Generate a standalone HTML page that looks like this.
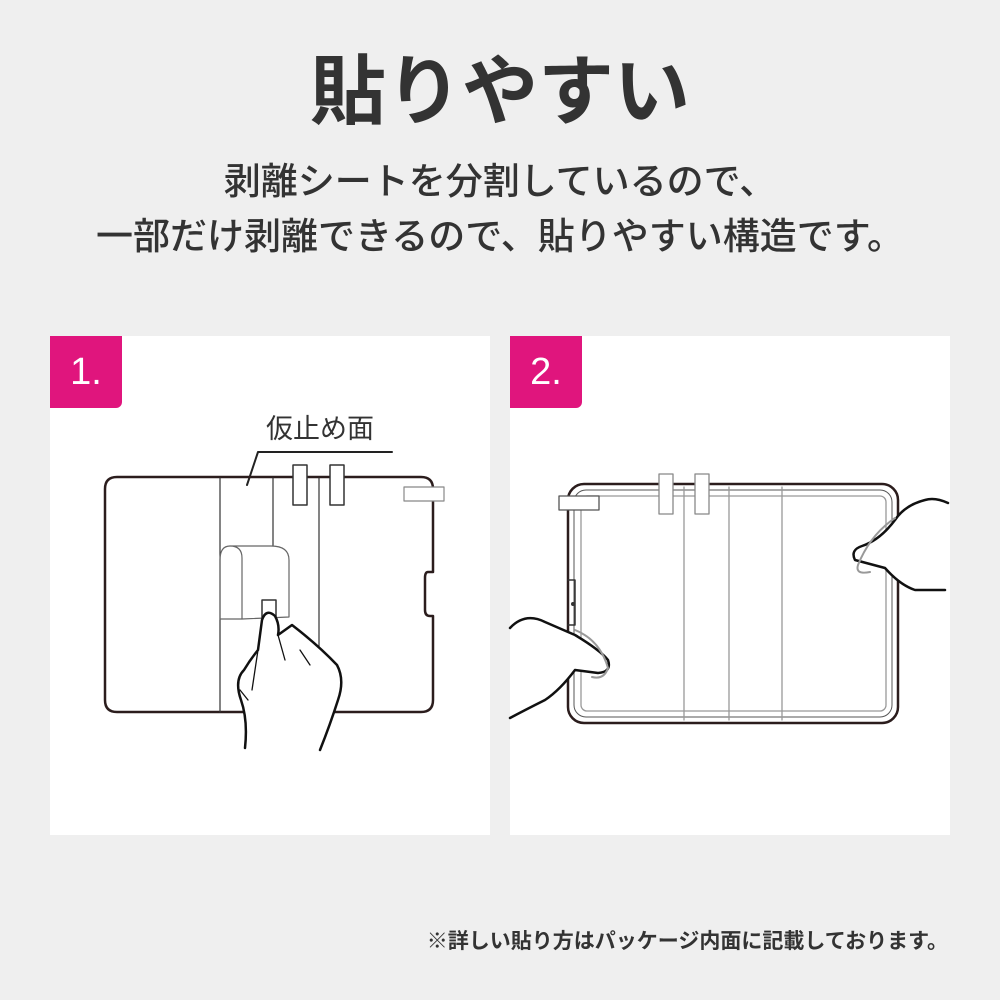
<!DOCTYPE html>
<html><head><meta charset="utf-8"><style>
*{margin:0;padding:0;box-sizing:border-box}
body{width:1000px;height:1000px;background:#efefef;position:relative;overflow:hidden;font-family:"Liberation Sans","Noto Sans CJK JP",sans-serif;color:#333}
.t{position:absolute;left:0;width:1000px;text-align:center;white-space:nowrap}
.panel{position:absolute;top:336px;width:440px;height:499px;background:#fff}
.badge{position:absolute;left:0;top:0;width:72px;height:72px;background:#e0157d;color:#fff;font-size:38px;line-height:72px;text-align:center;border-bottom-right-radius:6px;font-weight:500}
</style></head><body>
<div class="t" style="top:48px;font-size:76px;font-weight:bold;line-height:90px">貼りやすい</div>
<div class="t" style="top:159px;font-size:37px;font-weight:500;line-height:46px">剥離シートを分割しているので、</div>
<div class="t" style="top:214px;font-size:37px;font-weight:500;line-height:46px">一部だけ剥離できるので、貼りやすい構造です。</div>

<div class="panel" style="left:50px"><div class="badge">1.</div></div>
<div class="panel" style="left:510px"><div class="badge">2.</div></div>

<svg style="position:absolute;left:0;top:0" width="1000" height="1000" fill="none" stroke-linejoin="round" stroke-linecap="round">
<text x="320" y="438" font-size="27" fill="#333" stroke="none" text-anchor="middle" font-family="Liberation Sans, Noto Sans CJK JP, sans-serif">仮止め面</text>
<path d="M392 452 H258 L247 485" stroke="#222" stroke-width="2"/>
<path d="M117 477 H421 Q433 477 433 489 V572 H428 Q425 572 425 578 V610 Q425 616 430 616 H433 V700 Q433 712 421 712 H117 Q105 712 105 700 V489 Q105 477 117 477 Z" stroke="#2b1d1d" stroke-width="2.5"/>
<path d="M220 478 V712 M273 478 V548 M319 478 V712" stroke="#333" stroke-width="1.2"/>
<rect x="293" y="465" width="14" height="40" fill="#fff" stroke="#333" stroke-width="1.5"/>
<rect x="330" y="465" width="14" height="40" fill="#fff" stroke="#333" stroke-width="1.5"/>
<rect x="404" y="487" width="40" height="14" fill="#fff" stroke="#888" stroke-width="1.2"/>
<path d="M242 619 V558 Q242 546 230 546 H271 Q289 546 289 560 V617 Z" fill="#fff" stroke="#666" stroke-width="1.2"/>
<path d="M230 546 Q220 546 220 560 V619 H242" stroke="#666" stroke-width="1.2"/>
<rect x="262" y="600" width="14" height="18" fill="#fff" stroke="#333" stroke-width="1.5"/>
<path d="M245 748 Q248 720 241 700 Q234 680 244 670 Q250 660 258 650 L262 620 Q266 608 275 616 Q280 625 278 635 L292 625 Q318 645 337 665 Q345 680 338 700 Q330 725 320 750" fill="#fff" stroke="#111" stroke-width="2.5"/>
<path d="M258 650 L252 690 M278 635 L285 660 M300 650 L310 665 M240 690 L248 700" stroke="#111" stroke-width="1.3"/>
<rect x="568" y="484" width="330" height="239" rx="16" stroke="#2b1d1d" stroke-width="2.5"/>
<rect x="574" y="490" width="318" height="227" rx="12" stroke="#555" stroke-width="1"/>
<rect x="581" y="496" width="305" height="215" rx="6" stroke="#999" stroke-width="1.3"/>
<path d="M684 487 V720 M729 487 V720 M782 487 V720" stroke="#999" stroke-width="1.3"/>
<rect x="659" y="474" width="14" height="40" fill="#fff" stroke="#888" stroke-width="1.3"/>
<rect x="695" y="474" width="14" height="40" fill="#fff" stroke="#888" stroke-width="1.3"/>
<rect x="559" y="496" width="40" height="14" fill="#fff" stroke="#555" stroke-width="1.3"/>
<path d="M568 580 H575 V625 H568" stroke="#333" stroke-width="1.5"/>
<circle cx="573" cy="604" r="2" fill="#333"/>
<path d="M510 628 Q525 612 545 622 L575 635 Q600 650 608 660 Q612 672 598 673 L575 670 Q560 690 545 700 Q525 710 510 718" fill="#fff" stroke="#111" stroke-width="2.5"/>
<path d="M575 630 Q600 640 608 668 Q604 680 592 677" stroke="#999" stroke-width="2"/>
<path d="M948 503 Q935 497 925 500 Q905 505 895 520 Q880 540 862 546 Q850 550 855 560 L885 568 Q900 585 915 590 L945 590" fill="#fff" stroke="#111" stroke-width="2.5"/>
<path d="M895 518 Q870 535 858 565 Q855 575 870 572" stroke="#999" stroke-width="2"/>
</svg>

<div style="position:absolute;right:52px;top:929px;font-size:21px;font-weight:bold;white-space:nowrap;line-height:26px">※詳しい貼り方はパッケージ内面に記載しております。</div>
</body></html>
